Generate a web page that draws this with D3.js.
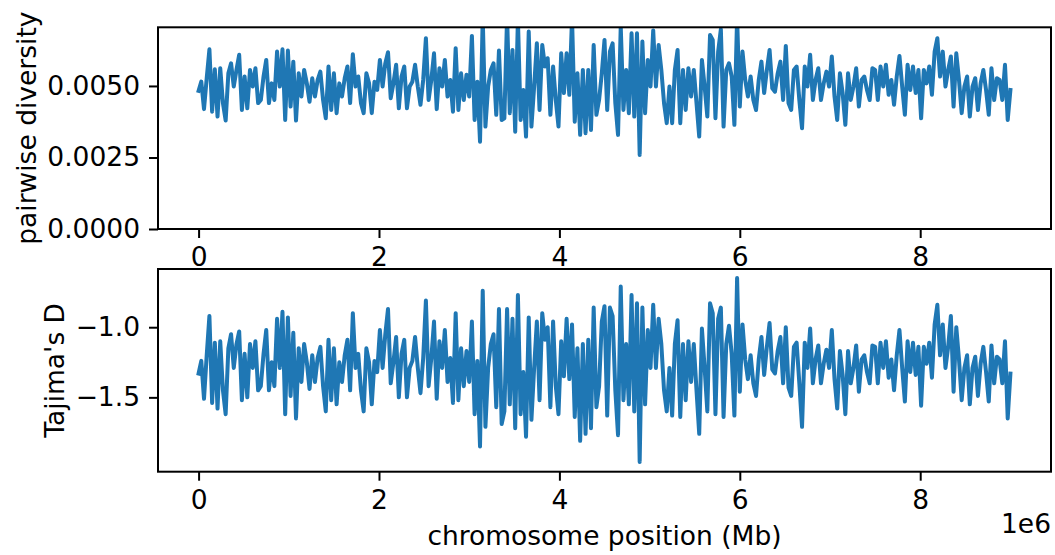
<!DOCTYPE html>
<html>
<head>
<meta charset="utf-8">
<script src="https://cdn.jsdelivr.net/npm/d3@7"></script>
<style>
  body { margin: 0; background: #fff; }
  svg { display: block; font-family: "DejaVu Sans", sans-serif; }
</style>
</head>
<body>
<svg id="chart"></svg>
<script>
var width = 1055, height = 555;
var lineColor = "#1f77b4";

// windows of 30 kb along the chromosome
var windowStart = 0, windowStep = 30000, windowEnd = 9000000;
var positions = d3.range(windowStart, windowEnd + 1, windowStep);

var xTicks = [0, 2e6, 4e6, 6e6, 8e6];
var xTickLabels = ["0", "2", "4", "6", "8"];
var piTicks = [0, 0.0025, 0.005];
var piTickLabels = ["0.0000", "0.0025", "0.0050"];
var tajTicks = [-1.5, -1.0];
var tajTickLabels = ["\u22121.5", "\u22121.0"];

var pi = [
0.00483,0.00515,0.00419,0.00527,0.00628,0.00410,0.00558,0.00393,0.00562,0.00440,
0.00379,0.00544,0.00579,0.00498,0.00556,0.00609,0.00416,0.00533,0.00422,0.00556,
0.00498,0.00562,0.00440,0.00451,0.00533,0.00591,0.00440,0.00509,0.00451,0.00620,
0.00498,0.00628,0.00381,0.00624,0.00428,0.00585,0.00379,0.00544,0.00463,0.00556,
0.00509,0.00445,0.00527,0.00463,0.00521,0.00550,0.00451,0.00387,0.00568,0.00416,
0.00544,0.00405,0.00509,0.00463,0.00527,0.00568,0.00440,0.00611,0.00498,0.00533,
0.00440,0.00405,0.00544,0.00509,0.00405,0.00515,0.00486,0.00591,0.00498,0.00579,
0.00618,0.00457,0.00509,0.00574,0.00422,0.00533,0.00568,0.00422,0.00498,0.00515,
0.00574,0.00498,0.00434,0.00521,0.00667,0.00451,0.00521,0.00614,0.00419,0.00562,
0.00498,0.00591,0.00463,0.00521,0.00410,0.00632,0.00416,0.00544,0.00451,0.00539,
0.00463,0.00675,0.00381,0.00515,0.00305,0.00740,0.00358,0.00498,0.00556,0.00579,
0.00399,0.00624,0.00381,0.00387,0.00745,0.00405,0.00626,0.00340,0.00735,0.00381,
0.00486,0.00323,0.00690,0.00358,0.00498,0.00649,0.00416,0.00643,0.00568,0.00597,
0.00399,0.00568,0.00451,0.00358,0.00614,0.00475,0.00614,0.00469,0.00738,0.00375,
0.00544,0.00329,0.00556,0.00335,0.00556,0.00346,0.00643,0.00399,0.00451,0.00544,
0.00661,0.00416,0.00620,0.00649,0.00440,0.00329,0.00708,0.00416,0.00556,0.00405,
0.00684,0.00393,0.00684,0.00259,0.00655,0.00405,0.00591,0.00498,0.00694,0.00498,
0.00643,0.00556,0.00440,0.00370,0.00498,0.00370,0.00556,0.00626,0.00370,0.00556,
0.00416,0.00562,0.00463,0.00556,0.00440,0.00323,0.00591,0.00498,0.00393,0.00678,
0.00661,0.00387,0.00620,0.00698,0.00358,0.00556,0.00579,0.00533,0.00364,0.00740,
0.00428,0.00620,0.00521,0.00463,0.00533,0.00451,0.00416,0.00521,0.00585,0.00475,
0.00556,0.00626,0.00492,0.00480,0.00544,0.00585,0.00451,0.00640,0.00440,0.00416,
0.00556,0.00568,0.00451,0.00352,0.00568,0.00498,0.00609,0.00451,0.00521,0.00562,
0.00451,0.00509,0.00550,0.00498,0.00603,0.00463,0.00381,0.00544,0.00475,0.00364,
0.00544,0.00451,0.00498,0.00562,0.00428,0.00521,0.00533,0.00486,0.00451,0.00562,
0.00556,0.00451,0.00568,0.00498,0.00574,0.00469,0.00521,0.00434,0.00533,0.00605,
0.00498,0.00399,0.00574,0.00486,0.00568,0.00475,0.00556,0.00387,0.00556,0.00509,
0.00568,0.00469,0.00620,0.00667,0.00533,0.00620,0.00498,0.00556,0.00603,0.00428,
0.00614,0.00521,0.00405,0.00498,0.00533,0.00393,0.00498,0.00527,0.00416,0.00509,
0.00556,0.00486,0.00399,0.00562,0.00451,0.00527,0.00521,0.00451,0.00574,0.00381,
0.00486
];

var tajimaD = [
-1.33,-1.24,-1.51,-1.20,-0.92,-1.54,-1.11,-1.58,-1.10,-1.45,
-1.62,-1.15,-1.05,-1.29,-1.12,-1.03,-1.52,-1.19,-1.50,-1.12,
-1.29,-1.10,-1.45,-1.42,-1.19,-1.02,-1.45,-1.25,-1.42,-0.94,
-1.29,-0.89,-1.62,-0.93,-1.49,-1.04,-1.65,-1.15,-1.39,-1.12,
-1.25,-1.44,-1.20,-1.39,-1.22,-1.14,-1.42,-1.60,-1.09,-1.52,
-1.15,-1.55,-1.25,-1.39,-1.20,-1.09,-1.45,-0.90,-1.29,-1.19,
-1.45,-1.60,-1.15,-1.25,-1.55,-1.24,-1.32,-1.02,-1.29,-1.05,
-0.87,-1.40,-1.25,-1.07,-1.50,-1.19,-1.09,-1.50,-1.29,-1.24,
-1.07,-1.29,-1.47,-1.22,-0.81,-1.42,-1.22,-0.96,-1.51,-1.10,
-1.29,-1.02,-1.39,-1.22,-1.54,-0.90,-1.52,-1.15,-1.42,-1.17,
-1.39,-0.96,-1.62,-1.24,-1.85,-0.74,-1.71,-1.29,-1.12,-1.05,
-1.57,-0.87,-1.69,-1.60,-0.87,-1.55,-0.94,-1.72,-0.77,-1.62,
-1.32,-1.78,-0.93,-1.66,-1.29,-0.96,-1.52,-0.90,-1.09,-1.00,
-1.57,-0.96,-1.42,-1.62,-1.10,-1.35,-0.94,-1.37,-0.98,-1.64,
-1.15,-1.81,-1.12,-1.76,-1.09,-1.72,-0.86,-1.57,-1.42,-0.96,
-0.85,-1.63,-0.86,-0.92,-1.45,-1.77,-0.71,-1.52,-1.12,-1.55,
-0.77,-1.60,-0.83,-1.96,-0.86,-1.55,-1.02,-1.29,-0.84,-1.29,
-0.94,-1.12,-1.45,-1.60,-1.29,-1.63,-1.12,-0.95,-1.64,-1.12,
-1.52,-1.10,-1.39,-1.12,-1.45,-1.76,-1.01,-1.29,-1.60,-0.83,
-0.90,-1.62,-0.94,-0.86,-1.64,-1.12,-0.99,-1.19,-1.63,-0.65,
-1.46,-0.98,-1.23,-1.37,-1.20,-1.40,-1.49,-1.23,-1.07,-1.34,
-1.14,-0.97,-1.30,-1.33,-1.17,-1.07,-1.40,-1.00,-1.43,-1.49,
-1.14,-1.11,-1.40,-1.71,-1.11,-1.29,-1.01,-1.40,-1.23,-1.13,
-1.40,-1.26,-1.16,-1.29,-1.02,-1.37,-1.58,-1.17,-1.34,-1.62,
-1.17,-1.40,-1.29,-1.13,-1.46,-1.23,-1.20,-1.32,-1.40,-1.13,
-1.14,-1.40,-1.11,-1.29,-1.10,-1.36,-1.23,-1.45,-1.20,-1.02,
-1.29,-1.53,-1.10,-1.32,-1.11,-1.34,-1.14,-1.56,-1.14,-1.26,
-1.11,-1.36,-0.98,-0.84,-1.20,-0.98,-1.29,-1.14,-0.92,-1.46,
-1.00,-1.23,-1.52,-1.29,-1.20,-1.55,-1.29,-1.21,-1.49,-1.26,
-1.14,-1.32,-1.53,-1.13,-1.40,-1.21,-1.23,-1.40,-1.10,-1.65,
-1.33
];

var fontSize = 26.5, tickLen = 9, tickPad = 9;
var left = 158, right = 1051;

var svg = d3.select("#chart").attr("width", width).attr("height", height);
svg.append("rect").attr("width", width).attr("height", height).attr("fill", "#fff");

var x = d3.scaleLinear().domain([-0.45e6, 9.45e6]).range([left, right]);

function drawPanel(id, top, bottom, yDomain, values, yTicks, yTickLabels, ylabel, ylabelX){
    var y = d3.scaleLinear().domain(yDomain).range([bottom, top]);
    var g = svg.append("g").attr("id", id);

    g.append("rect")
        .attr("x", left).attr("y", top)
        .attr("width", right - left).attr("height", bottom - top)
        .attr("fill", "#fff");

    g.append("clipPath").attr("id", "clip_" + id)
        .append("rect")
        .attr("x", left).attr("y", top)
        .attr("width", right - left).attr("height", bottom - top);

    var line = d3.line()
        .x(function(d, i){ return x(positions[i]); })
        .y(function(d){ return y(d); });

    g.append("path")
        .datum(values)
        .attr("clip-path", "url(#clip_" + id + ")")
        .attr("d", line)
        .attr("fill", "none")
        .attr("stroke", lineColor)
        .attr("stroke-width", 4)
        .attr("stroke-linejoin", "round")
        .attr("stroke-linecap", "square");

    var xAxis = d3.axisBottom(x).tickValues(xTicks)
        .tickFormat(function(d, i){ return xTickLabels[i]; })
        .tickSize(tickLen).tickPadding(tickPad);
    var yAxis = d3.axisLeft(y).tickValues(yTicks)
        .tickFormat(function(d, i){ return yTickLabels[i]; })
        .tickSize(tickLen).tickPadding(tickPad);

    var gx = g.append("g").attr("transform", "translate(0," + bottom + ")").call(xAxis);
    var gy = g.append("g").attr("transform", "translate(" + left + ",0)").call(yAxis);
    [gx, gy].forEach(function(a){
        a.select(".domain").remove();
        a.selectAll(".tick line").attr("stroke", "#000").attr("stroke-width", 2);
        a.selectAll(".tick text").attr("fill", "#000")
            .style("font-size", fontSize + "px")
            .style("font-family", "'DejaVu Sans', sans-serif");
    });

    // frame
    g.append("rect")
        .attr("x", left).attr("y", top)
        .attr("width", right - left).attr("height", bottom - top)
        .attr("fill", "none").attr("stroke", "#000").attr("stroke-width", 2);

    g.append("text")
        .attr("transform", "translate(" + ylabelX + "," + (top + bottom) / 2 + ") rotate(-90)")
        .attr("text-anchor", "middle")
        .attr("dy", "0.35em")
        .style("font-size", fontSize + "px")
        .text(ylabel);
    return g;
}

drawPanel("pi", 27.3, 229, [0, 0.00705], pi, piTicks, piTickLabels, "pairwise diversity", 27);
drawPanel("taj", 269, 471.7, [-2.03, -0.585], tajimaD, tajTicks, tajTickLabels, "Tajima's D", 55);

svg.append("text")
    .attr("x", (left + right) / 2).attr("y", 545)
    .attr("text-anchor", "middle")
    .style("font-size", fontSize + "px")
    .text("chromosome position (Mb)");

svg.append("text")
    .attr("x", right).attr("y", 533)
    .attr("text-anchor", "end")
    .style("font-size", fontSize + "px")
    .text("1e6");
</script>
</body>
</html>
